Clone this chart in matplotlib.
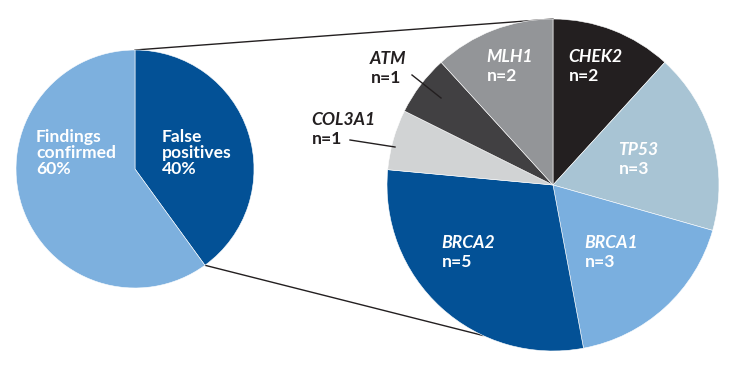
import matplotlib
matplotlib.use("Agg")
import matplotlib.pyplot as plt
import numpy as np

# left pie: overall findings
overall_labels = ["False\npositives", "Findings\nconfirmed"]
overall_pct = [40, 60]
overall_colors = ["#035196", "#7db0de"]

# right pie: false positives by gene (clockwise from top)
genes = ["CHEK2", "TP53", "BRCA1", "BRCA2", "COL3A1", "ATM", "MLH1"]
counts = [2, 3, 3, 5, 1, 1, 2]
gene_colors = ["#231f20", "#a8c4d4", "#7aafdf", "#035196", "#d1d3d4", "#414042", "#939598"]
gene_text = ["white", "white", "white", "white", "#231f20", "#231f20", "white"]

plt.rcParams["font.family"] = ["Lato", "DejaVu Sans"]

W, H = 730, 370
fig = plt.figure(figsize=(7.3, 3.7), dpi=100)
ax = fig.add_axes([0, 0, 1, 1])

lc = (135, H - 169)
lr = 119
rc = (553, H - 185)
rr = 166

ax.pie(overall_pct, colors=overall_colors, startangle=90, counterclock=False,
       center=lc, radius=lr, frame=True,
       wedgeprops=dict(edgecolor="white", linewidth=0.4))
ax.pie(counts, colors=gene_colors, startangle=90, counterclock=False,
       center=rc, radius=rr, frame=True,
       wedgeprops=dict(edgecolor="white", linewidth=0.4))
ax.set_xlim(0, W)
ax.set_ylim(0, H)
ax.set_aspect("equal")
ax.axis("off")

def on_circle(c, r, ang):
    a = np.deg2rad(ang)
    return c[0] + r * np.cos(a), c[1] + r * np.sin(a)

# connector lines
end_ang = 90 - 360 * overall_pct[0] / sum(overall_pct)
p1 = on_circle(lc, lr, 90)
p2 = on_circle(rc, rr, 90)
p3 = on_circle(lc, lr, end_ang)
p4 = on_circle(rc, rr, -115)
ax.plot([p1[0], p2[0]], [p1[1], p2[1]], color="#231f20", lw=1.0, zorder=0)
ax.plot([p3[0], p4[0]], [p3[1], p4[1]], color="#231f20", lw=1.0, zorder=0)

fs = 12.6
# left labels (x, top y in pixels)
left_pos = [(162, 129), (36, 129)]
for lab, pct, (x, y) in zip(overall_labels, overall_pct, left_pos):
    ax.text(x, H - y, f"{lab}\n{pct}%", color="white", fontsize=fs,
            fontweight="bold", ha="left", va="top", linespacing=1.0)

gene_pos = [(568, 49), (618, 142), (584, 235), (441, 235), (311, 112), (370, 51), (486, 49)]
for g, n, col, (x, y) in zip(genes, counts, gene_text, gene_pos):
    ax.text(x, H - y, g, color=col, fontsize=fs, fontweight="bold",
            fontstyle="italic", ha="left", va="top")
    ax.text(x + 1, H - y - 19, f"n={n}", color=col, fontsize=fs,
            fontweight="bold", ha="left", va="top")

# leader lines for small outside labels
ax.plot([412, 441], [H - 75, H - 98], color="#231f20", lw=1.0)
ax.plot([350, 395], [H - 140, H - 147], color="#231f20", lw=1.0)

fig.savefig("out.png", dpi=100)
